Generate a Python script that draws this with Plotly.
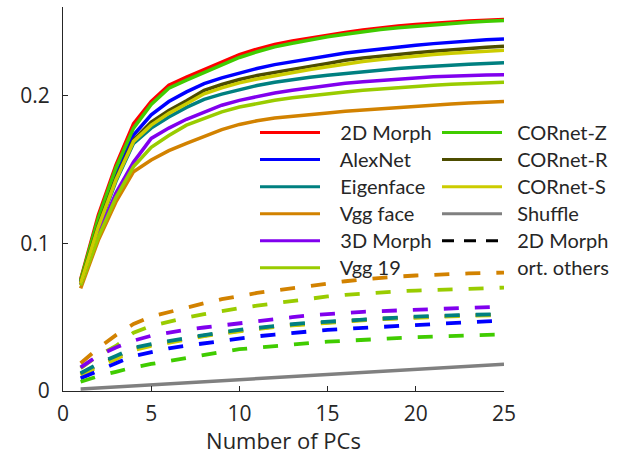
import plotly.graph_objects as go

pcs = list(range(1, 26))

names = ["2D Morph", "AlexNet", "Eigenface", "Vgg face", "3D Morph", "Vgg 19",
         "CORnet-Z", "CORnet-R", "CORnet-S", "Shuffle"]
colors = {"2D Morph": "#ff0000", "AlexNet": "#0000ff", "Eigenface": "#008080",
          "Vgg face": "#d28200", "3D Morph": "#8000ee", "Vgg 19": "#99cc00",
          "CORnet-Z": "#40cc00", "CORnet-R": "#4d4d00", "CORnet-S": "#cccc00",
          "Shuffle": "#808080"}

# solid curves: variance explained vs number of PCs
morph2d = [0.0755, 0.119, 0.153, 0.181, 0.196, 0.207, 0.2125, 0.2176, 0.2230, 0.2278, 0.2315, 0.2346, 0.2370,
           0.2391, 0.2410, 0.2428, 0.2445, 0.2459, 0.2471, 0.2481, 0.2490, 0.2499, 0.2505, 0.2511, 0.2515]
alexnet = [0.0740, 0.113, 0.146, 0.1733, 0.187, 0.196, 0.2025, 0.2081, 0.2120, 0.2154, 0.2184, 0.2210, 0.2231,
           0.2251, 0.2270, 0.2289, 0.2302, 0.2316, 0.2329, 0.2341, 0.2352, 0.2362, 0.2371, 0.2378, 0.2384]
eigenface = [0.0727, 0.110, 0.142, 0.1677, 0.178, 0.1855, 0.1920, 0.1975, 0.2010, 0.2041, 0.2068, 0.2091, 0.2110,
             0.2125, 0.2138, 0.2150, 0.2162, 0.2173, 0.2183, 0.2192, 0.2200, 0.2207, 0.2213, 0.2218, 0.2222]
vggface = [0.0695, 0.102, 0.128, 0.1485, 0.1564, 0.1627, 0.1677, 0.1725, 0.1770, 0.1805, 0.1830, 0.1849, 0.1862,
           0.1872, 0.1883, 0.1894, 0.1903, 0.1912, 0.1920, 0.1928, 0.1936, 0.1943, 0.1950, 0.1956, 0.1961]
morph3d = [0.0722, 0.106, 0.134, 0.155, 0.171, 0.178, 0.184, 0.1890, 0.1935, 0.1968, 0.1995, 0.2018, 0.2037,
           0.2053, 0.2068, 0.2083, 0.2094, 0.2104, 0.2113, 0.2120, 0.2127, 0.2132, 0.2136, 0.2139, 0.2141]
vgg19 = [0.0715, 0.104, 0.131, 0.152, 0.165, 0.173, 0.180, 0.1846, 0.1890, 0.1923, 0.1948, 0.1968, 0.1985,
         0.2000, 0.2013, 0.2025, 0.2036, 0.2046, 0.2055, 0.2063, 0.2071, 0.2077, 0.2082, 0.2086, 0.2090]
cornet_z = [0.0750, 0.117, 0.151, 0.178, 0.194, 0.205, 0.2105, 0.2158, 0.2210, 0.2258, 0.2297, 0.2330, 0.2355,
            0.2378, 0.2398, 0.2416, 0.2433, 0.2447, 0.2460, 0.2470, 0.2480, 0.2489, 0.2496, 0.2503, 0.2508]
cornet_r = [0.0735, 0.112, 0.144, 0.170, 0.182, 0.190, 0.1965, 0.2035, 0.2075, 0.2109, 0.2136, 0.2158, 0.2180,
            0.2198, 0.2218, 0.2240, 0.2255, 0.2268, 0.2280, 0.2291, 0.2301, 0.2311, 0.2319, 0.2327, 0.2334]
cornet_s = [0.0730, 0.111, 0.143, 0.169, 0.180, 0.188, 0.1945, 0.2012, 0.2052, 0.2086, 0.2113, 0.2136, 0.2158,
            0.2177, 0.2196, 0.2216, 0.2231, 0.2245, 0.2257, 0.2268, 0.2278, 0.2287, 0.2295, 0.2302, 0.2307]
shuffle = [0.0014, 0.0021, 0.0028, 0.0035, 0.0042, 0.0049, 0.0056, 0.0063, 0.0070, 0.0077, 0.0084, 0.0091, 0.0098,
           0.0105, 0.0112, 0.0119, 0.0126, 0.0133, 0.0140, 0.0147, 0.0154, 0.0161, 0.0168, 0.0175, 0.0181]

# dashed curves: 2D Morph orthogonalised against the others
ort_vggface = [0.0188, 0.0290, 0.0378, 0.0454, 0.0504, 0.0535, 0.0567, 0.0594, 0.0622, 0.0646, 0.0664, 0.0680,
               0.0697, 0.0712, 0.0728, 0.0743, 0.0756, 0.0767, 0.0775, 0.0782, 0.0788, 0.0792, 0.0796, 0.0799, 0.0802]
ort_vgg19 = [0.0154, 0.0240, 0.0305, 0.0395, 0.0441, 0.0470, 0.0497, 0.0520, 0.0542, 0.0561, 0.0578, 0.0594,
             0.0609, 0.0625, 0.0640, 0.0651, 0.0660, 0.0668, 0.0675, 0.0680, 0.0685, 0.0690, 0.0694, 0.0698, 0.0700]
ort_morph3d = [0.0160, 0.0240, 0.0295, 0.0341, 0.0374, 0.0396, 0.0415, 0.0430, 0.0445, 0.0459, 0.0473, 0.0487,
               0.0500, 0.0512, 0.0522, 0.0529, 0.0536, 0.0541, 0.0545, 0.0549, 0.0554, 0.0559, 0.0564, 0.0568, 0.0572]
ort_eigenface = [0.0120, 0.0185, 0.0237, 0.0292, 0.0318, 0.0339, 0.0360, 0.0380, 0.0398, 0.0414, 0.0428, 0.0441,
                 0.0452, 0.0462, 0.0470, 0.0478, 0.0486, 0.0493, 0.0499, 0.0504, 0.0508, 0.0512, 0.0516, 0.0519, 0.0522]
ort_cornet_r = [0.0113, 0.0175, 0.0228, 0.0285, 0.0312, 0.0334, 0.0355, 0.0375, 0.0393, 0.0409, 0.0424, 0.0437,
                0.0448, 0.0458, 0.0466, 0.0474, 0.0482, 0.0489, 0.0495, 0.0500, 0.0504, 0.0508, 0.0512, 0.0515, 0.0518]
ort_cornet_s = [0.0106, 0.0165, 0.0215, 0.0277, 0.0305, 0.0328, 0.0350, 0.0371, 0.0389, 0.0405, 0.0420, 0.0433,
                0.0444, 0.0454, 0.0463, 0.0471, 0.0479, 0.0486, 0.0492, 0.0497, 0.0501, 0.0505, 0.0509, 0.0512, 0.0515]
ort_alexnet = [0.0086, 0.0140, 0.0188, 0.0237, 0.0265, 0.0289, 0.0307, 0.0323, 0.0341, 0.0357, 0.0370, 0.0382,
               0.0394, 0.0404, 0.0414, 0.0421, 0.0428, 0.0435, 0.0441, 0.0447, 0.0454, 0.0460, 0.0466, 0.0472, 0.0477]
ort_cornet_z = [0.0063, 0.0100, 0.0130, 0.0160, 0.0183, 0.0205, 0.0225, 0.0245, 0.0265, 0.0283, 0.0295, 0.0305,
                0.0315, 0.0325, 0.0334, 0.0341, 0.0347, 0.0353, 0.0359, 0.0364, 0.0368, 0.0372, 0.0376, 0.0380, 0.0384]

solid = {"2D Morph": morph2d, "AlexNet": alexnet, "Eigenface": eigenface, "Vgg face": vggface,
         "3D Morph": morph3d, "Vgg 19": vgg19, "CORnet-Z": cornet_z, "CORnet-R": cornet_r,
         "CORnet-S": cornet_s, "Shuffle": shuffle}
dashed = [("Vgg face", ort_vggface), ("Vgg 19", ort_vgg19), ("3D Morph", ort_morph3d),
          ("CORnet-R", ort_cornet_r), ("CORnet-S", ort_cornet_s), ("Eigenface", ort_eigenface),
          ("AlexNet", ort_alexnet), ("CORnet-Z", ort_cornet_z)]

fig = go.Figure()
for nm, ys in dashed:
    fig.add_trace(go.Scatter(x=pcs, y=ys, mode="lines", showlegend=False,
                             line=dict(color=colors[nm], width=3.8, dash="15px,16px")))
for nm in names:
    fig.add_trace(go.Scatter(x=pcs, y=solid[nm], mode="lines", showlegend=False,
                             line=dict(color=colors[nm], width=3.5)))

NB = "\u00a0"


def leg_label(text, pad):
    return '<span style="font-size:20px">' + NB * pad + text + "</span>"


left_col = names[:6]
right_col = names[6:]
for nm in left_col:
    fig.add_trace(go.Scatter(x=[None], y=[None], mode="lines", name=leg_label(nm, 3), legend="legend",
                             line=dict(color=colors[nm], width=3)))
for nm in right_col:
    fig.add_trace(go.Scatter(x=[None], y=[None], mode="lines", name=leg_label(nm, 2), legend="legend2",
                             line=dict(color=colors[nm], width=3)))
fig.add_trace(go.Scatter(x=[None], y=[None], mode="lines", name=leg_label("2D Morph", 2), legend="legend2",
                         line=dict(color="black", width=3, dash="12px,10px")))
fig.add_trace(go.Scatter(x=[None], y=[None], mode="lines", name=leg_label("ort. others", 2), legend="legend2",
                         line=dict(color="rgba(0,0,0,0)", width=3)))

W, H = 622, 455
txt = "#262626"
legfont = dict(family="Lato", size=18.5, color=txt)
axfont = dict(family="Open Sans", size=21, color=txt)
fig.update_layout(
    width=W, height=H,
    margin=dict(l=63, r=118, t=7, b=64, autoexpand=False),
    paper_bgcolor="white", plot_bgcolor="white",
    font=axfont,
    xaxis=dict(range=[0, 25], tickvals=[0, 5, 10, 15, 20, 25], ticks="inside", ticklen=5,
               tickcolor=txt, showline=True, linecolor=txt, linewidth=1, showgrid=False,
               zeroline=False, tickfont=axfont,
               title=dict(text="Number of PCs", standoff=3,
                          font=dict(family="Open Sans", size=22, color=txt)),
               ticklabelstandoff=4),
    yaxis=dict(range=[0, 0.26], tickvals=[0, 0.1, 0.2], ticktext=["0", "0.1", "0.2"],
               ticks="inside", ticklen=5, tickcolor=txt, showline=True, linecolor=txt,
               linewidth=1, showgrid=False, zeroline=False, ticklabelstandoff=8, tickfont=axfont),
    legend=dict(xref="container", yref="container", x=255 / W, y=1 - 114 / H,
                xanchor="left", yanchor="top", bgcolor="rgba(0,0,0,0)", font=legfont,
                itemwidth=60, tracegroupgap=0),
    legend2=dict(xref="container", yref="container", x=437 / W, y=1 - 114 / H,
                 xanchor="left", yanchor="top", bgcolor="rgba(0,0,0,0)", font=legfont,
                 itemwidth=60, tracegroupgap=0),
    showlegend=True,
)
fig.write_html("out.html")
